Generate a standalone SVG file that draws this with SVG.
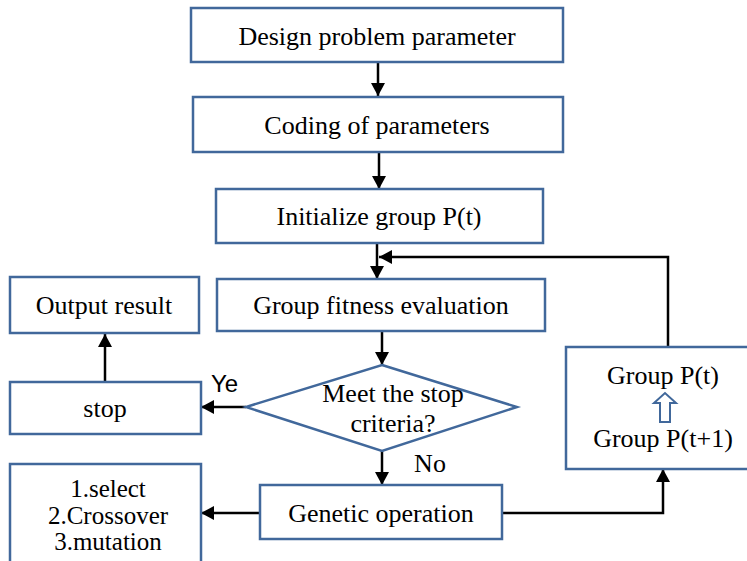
<svg xmlns="http://www.w3.org/2000/svg" width="747" height="561" viewBox="0 0 747 561">
<style>
.box{fill:#fff;stroke:#41689b;stroke-width:2.5}
.t{font-family:"Liberation Serif","Times New Roman",serif;font-size:26px;fill:#000;text-anchor:middle}
.l{font-size:25px}
.s{font-family:"Liberation Sans",Arial,sans-serif;font-size:24px;fill:#000}
.c{fill:none;stroke:#000;stroke-width:2.5}
</style>
<defs>
<marker id="ah" markerUnits="userSpaceOnUse" markerWidth="14" markerHeight="14" refX="13" refY="7" orient="auto">
<path d="M0,0 L13,7 L0,14 z" fill="#000"/>
</marker>
</defs>
<rect width="747" height="561" fill="#fff"/>
<g id="connectors">
<line class="c" x1="378" y1="62" x2="378" y2="96" marker-end="url(#ah)"/>
<line class="c" x1="379" y1="152" x2="379" y2="189" marker-end="url(#ah)"/>
<line class="c" x1="377" y1="243" x2="377" y2="279" marker-end="url(#ah)"/>
<polyline class="c" points="668,347 668,257 379,257" marker-end="url(#ah)"/>
<line class="c" x1="382" y1="331" x2="382" y2="365" marker-end="url(#ah)"/>
<line class="c" x1="246" y1="407" x2="201" y2="407" marker-end="url(#ah)"/>
<line class="c" x1="105" y1="382" x2="105" y2="334" marker-end="url(#ah)"/>
<line class="c" x1="382" y1="451" x2="382" y2="485" marker-end="url(#ah)"/>
<line class="c" x1="260" y1="513" x2="201" y2="513" marker-end="url(#ah)"/>
<polyline class="c" points="502,513 663,513 663,469" marker-end="url(#ah)"/>
<text class="s" x="211" y="392">Ye</text>
<text class="t" x="430" y="472">No</text>
</g>
<g id="design">
<rect class="box" x="191" y="8" width="372" height="54"/>
<text class="t" x="377" y="45">Design problem parameter</text>
</g>
<g id="coding">
<rect class="box" x="193" y="97" width="370" height="55"/>
<text class="t" x="377" y="134">Coding of parameters</text>
</g>
<g id="init">
<rect class="box" x="216" y="189" width="327" height="54"/>
<text class="t" x="379" y="225">Initialize group P(t)</text>
</g>
<g id="fitness">
<rect class="box" x="217" y="279" width="328" height="52"/>
<text class="t" x="381" y="314">Group fitness evaluation</text>
</g>
<g id="decision">
<polygon class="box" points="382,365 517,407 382,451 246,407"/>
<text class="t" x="393" y="402">Meet the stop</text>
<text class="t" x="393" y="432">criteria?</text>
</g>
<g id="output">
<rect class="box" x="10" y="277" width="189" height="56"/>
<text class="t" x="104" y="314">Output result</text>
</g>
<g id="stop">
<rect class="box" x="10" y="382" width="191" height="52"/>
<text class="t" x="105" y="417">stop</text>
</g>
<g id="operators">
<rect class="box" x="10" y="464" width="191" height="110"/>
<text class="t l" x="108" y="497">1.select</text>
<text class="t l" x="108" y="524">2.Crossover</text>
<text class="t l" x="108" y="550">3.mutation</text>
</g>
<g id="genetic">
<rect class="box" x="260" y="485" width="242" height="54"/>
<text class="t" x="381" y="522">Genetic operation</text>
</g>
<g id="group">
<rect class="box" x="566" y="347" width="195" height="122"/>
<text class="t" x="663" y="384">Group P(t)</text>
<path d="M660,422 L660,403 L654,403 L665,393 L676,403 L670,403 L670,422 z" fill="#fff" stroke="#41689b" stroke-width="2"/>
<text class="t" x="663" y="447">Group P(t+1)</text>
</g>
</svg>
